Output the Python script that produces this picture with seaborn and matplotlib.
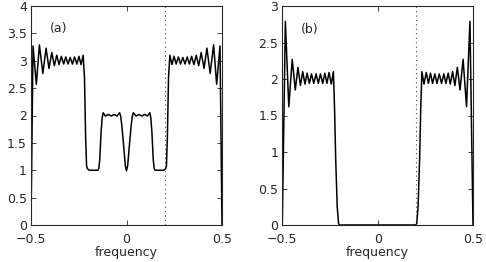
import matplotlib
matplotlib.use("Agg")
import matplotlib.pyplot as plt
import seaborn as sns

# panel (a): response
freq_a = [-0.500, -0.4895, -0.472, -0.456, -0.438, -0.421, -0.406, -0.391, -0.378,
          -0.365, -0.353, -0.341, -0.329, -0.318, -0.306, -0.295, -0.283, -0.272,
          -0.260, -0.249, -0.238, -0.227, -0.220, -0.214, -0.209, -0.205, -0.195,
          -0.180, -0.160, -0.150, -0.145, -0.140, -0.133, -0.127, -0.122, -0.110,
          -0.095, -0.080, -0.065, -0.050, -0.036, -0.030, -0.024, -0.015, -0.006,
          0.000,
          0.006, 0.015, 0.024, 0.030, 0.036, 0.050, 0.065, 0.080, 0.095, 0.110,
          0.122, 0.127, 0.133, 0.140, 0.145, 0.150, 0.160, 0.180, 0.195, 0.205,
          0.209, 0.214, 0.220, 0.227, 0.238, 0.249, 0.260, 0.272, 0.283, 0.295,
          0.306, 0.318, 0.329, 0.341, 0.353, 0.365, 0.378, 0.391, 0.406, 0.421,
          0.438, 0.456, 0.472, 0.4895, 0.500]
resp_a = [0.00, 3.27, 2.57, 3.29, 2.77, 3.23, 2.86, 3.15, 2.91,
          3.10, 2.93, 3.08, 2.94, 3.07, 2.94, 3.06, 2.94, 3.07,
          2.94, 3.08, 2.93, 3.10, 2.70, 1.60, 1.08, 1.03, 1.00,
          1.00, 1.00, 1.00, 1.03, 1.20, 1.70, 1.97, 2.05, 1.99,
          2.02, 1.99, 2.02, 1.99, 2.05, 1.98, 1.80, 1.45, 1.08,
          0.99,
          1.08, 1.45, 1.80, 1.98, 2.05, 1.99, 2.02, 1.99, 2.02, 1.99,
          2.05, 1.97, 1.70, 1.20, 1.03, 1.00, 1.00, 1.00, 1.00, 1.03,
          1.08, 1.60, 2.70, 3.10, 2.93, 3.08, 2.94, 3.07, 2.94, 3.06,
          2.94, 3.07, 2.94, 3.08, 2.93, 3.10, 2.91, 3.15, 2.86, 3.23,
          2.77, 3.29, 2.57, 3.27, 0.00]

# panel (b)
freq_b = [-0.500, -0.484, -0.466, -0.448, -0.432, -0.418, -0.405, -0.393, -0.381,
          -0.370, -0.358, -0.347, -0.335, -0.323, -0.311, -0.300, -0.288, -0.277,
          -0.266, -0.255, -0.243, -0.232, -0.226, -0.220, -0.212, -0.205, -0.200,
          0.000,
          0.200, 0.205, 0.212, 0.220, 0.226, 0.232, 0.243, 0.255, 0.266, 0.277,
          0.288, 0.300, 0.311, 0.323, 0.335, 0.347, 0.358, 0.370, 0.381, 0.393,
          0.405, 0.418, 0.432, 0.448, 0.466, 0.484, 0.500]
resp_b = [0.00, 2.79, 1.62, 2.27, 1.85, 2.16, 1.91, 2.10, 1.93,
          2.08, 1.94, 2.07, 1.94, 2.07, 1.94, 2.07, 1.94, 2.08,
          1.94, 2.09, 1.93, 2.10, 1.60, 0.90, 0.25, 0.02, 0.00,
          0.00,
          0.00, 0.02, 0.25, 0.90, 1.60, 2.10, 1.93, 2.09, 1.94, 2.08,
          1.94, 2.07, 1.94, 2.07, 1.94, 2.07, 1.94, 2.08, 1.93, 2.10,
          1.91, 2.16, 1.85, 2.27, 1.62, 2.79, 0.00]

panels = [("(a)", freq_a, resp_a, 4.0, 3.58),
          ("(b)", freq_b, resp_b, 3.0, 2.68)]
cutoff = 0.2

sns.set_style("ticks")
plt.rcParams["font.family"] = ["DejaVu Sans"]
plt.rcParams["font.size"] = 9
plt.rcParams["xtick.direction"] = "in"
plt.rcParams["ytick.direction"] = "in"
plt.rcParams["xtick.top"] = True
plt.rcParams["ytick.right"] = True

fig = plt.figure(figsize=(4.86, 2.62), dpi=100)
ax_pos = [[31 / 486, 37 / 262, 191 / 486, 219 / 262],
          [282.3 / 486, 37 / 262, 190.7 / 486, 219 / 262]]

for pos, (label, f, r, ytop, ylab) in zip(ax_pos, panels):
    ax = fig.add_axes(pos)
    sns.lineplot(x=f, y=r, ax=ax, color="black", linewidth=1.1,
                 sort=False, estimator=None)
    ax.axvline(cutoff, color="#444444", linestyle=(0, (1, 3)), linewidth=0.8)
    ax.set_xlim(-0.5, 0.5)
    ax.set_ylim(0, ytop)
    ax.set_xticks([-0.5, 0, 0.5])
    ax.set_xticklabels(["\u22120.5", "0", "0.5"])
    yt = [i * 0.5 for i in range(int(ytop * 2) + 1)]
    ax.set_yticks(yt)
    ax.set_yticklabels(["%g" % v for v in yt])
    ax.tick_params(length=3.5, width=0.6, labelsize=9)
    ax.tick_params(axis="x", pad=5.5)
    ax.tick_params(axis="y", pad=3)
    for s in ax.spines.values():
        s.set_linewidth(0.8)
        s.set_visible(True)
    ax.set_xlabel("frequency", fontsize=9, labelpad=0)
    ax.set_ylabel("")
    ax.text(-0.40, ylab, label, fontsize=9, ha="left", va="center")

fig.savefig("out.png", dpi=100)
